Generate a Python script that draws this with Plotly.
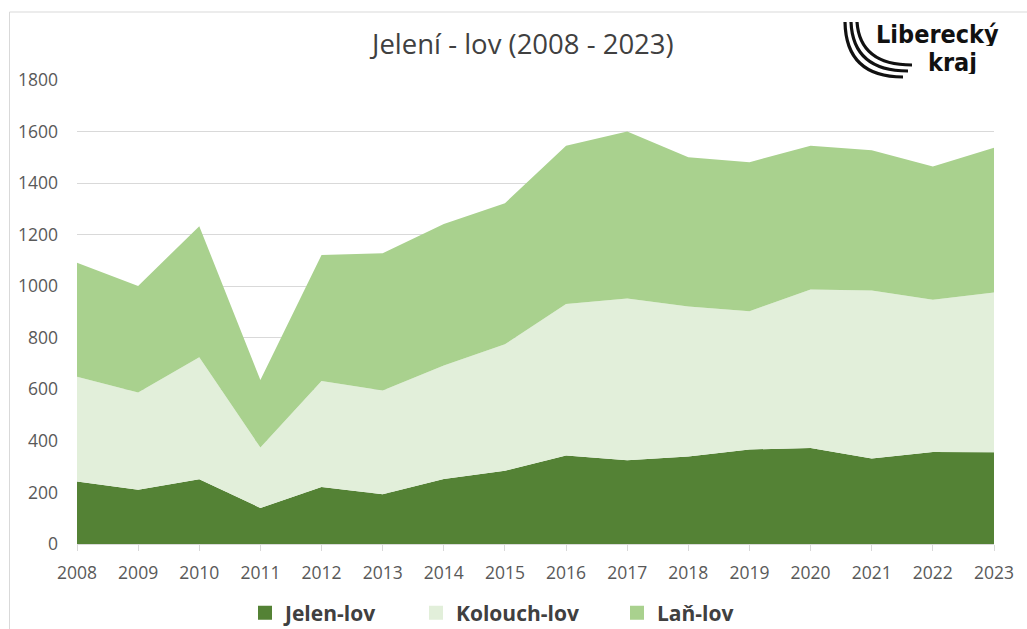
import plotly.graph_objects as go

years = [2008, 2009, 2010, 2011, 2012, 2013, 2014, 2015, 2016, 2017, 2018, 2019, 2020, 2021, 2022, 2023]
jelen = [242, 210, 251, 140, 221, 193, 252, 284, 343, 325, 339, 367, 372, 332, 357, 356]
kolouch = [407, 378, 473, 234, 411, 402, 440, 491, 588, 627, 582, 536, 615, 651, 591, 620]
lan = [442, 413, 509, 262, 489, 533, 549, 547, 614, 648, 579, 578, 558, 544, 516, 561]
series_names = ["Jelen-lov", "Kolouch-lov", "Laň-lov"]
colors = ["#548235", "#E2EFDA", "#A9D18E"]
title_text = "Jelení - lov (2008 - 2023)"

W, H = 1027, 629
ML, MR, MT, MB = 77, 33, 80, 85
PW, PH = W - ML - MR, H - MT - MB


def px(x):
    return (x - ML) / PW


def py(y):
    return (H - MB - y) / PH


fig = go.Figure()
for name, vals, col, lg in zip(series_names, [jelen, kolouch, lan], colors, ["legend", "legend2", "legend3"]):
    fig.add_trace(go.Scatter(
        x=years, y=vals, name=name, stackgroup="one", mode="lines",
        line=dict(width=0, color=col), fillcolor=col, showlegend=False,
        legendgroup=name,
    ))
    fig.add_trace(go.Scatter(
        x=[None], y=[None], name=name, mode="markers",
        marker=dict(symbol="square", size=14, color=col),
        legendgroup=name, showlegend=True, legend=lg,
    ))

leg_font = dict(family="Open Sans", size=21, color="#404040", weight="bold")
leg_common = dict(orientation="h", xanchor="left", yanchor="middle",
                  xref="container", yref="container", y=1 - 613 / H,
                  font=leg_font, bgcolor="rgba(0,0,0,0)", itemwidth=30)


def arc(x0, y0, cx, cy, x1, y1):
    return f"M {px(x0)} {py(y0)} Q {px(cx)} {py(cy)} {px(x1)} {py(y1)}"


shapes = [
    dict(type="line", xref="paper", yref="paper", x0=px(9.5), x1=px(9.5), y0=py(12), y1=py(700),
         line=dict(color="#D9D9D9", width=1)),
    dict(type="line", xref="paper", yref="paper", x0=px(9.5), x1=px(1100), y0=py(12), y1=py(12),
         line=dict(color="#D9D9D9", width=1)),
]
for (x0, cxx, cyy, x1, y1) in [(845, 846, 77, 903, 77), (851, 853, 71, 908, 71), (857, 860, 65, 912, 65)]:
    shapes.append(dict(type="path", xref="paper", yref="paper",
                       path=arc(x0, 22, cxx, cyy, x1, y1),
                       line=dict(color="#111111", width=3.2)))

logo_font = dict(family="Liberation Sans Narrow, DejaVu Sans Condensed", size=25, color="#111111", weight="bold")
annotations = [
    dict(text=title_text, xref="paper", yref="paper", x=px(521), y=py(43),
         xanchor="center", yanchor="middle", showarrow=False,
         font=dict(family="Open Sans", size=27.5, color="#404040")),
    dict(text="Liberecký", xref="paper", yref="paper", x=px(1001), y=py(34),
         xanchor="right", yanchor="middle", showarrow=False, font=logo_font, height=24),
    dict(text="kraj", xref="paper", yref="paper", x=px(979), y=py(62),
         xanchor="right", yanchor="middle", showarrow=False, font=logo_font, height=24),
]

fig.update_layout(
    width=W, height=H,
    margin=dict(l=ML, r=MR, t=MT, b=MB),
    paper_bgcolor="white", plot_bgcolor="white",
    font=dict(family="Open Sans", size=17, color="#595959"),
    legend=dict(x=245 / W, **leg_common),
    legend2=dict(x=416 / W, **leg_common),
    legend3=dict(x=617 / W, **leg_common),
    shapes=shapes,
    annotations=annotations,
    xaxis=dict(range=[2008, 2023], tickvals=years, ticktext=[str(y) for y in years],
               showgrid=False, showline=True, linecolor="#D9D9D9", linewidth=1,
               ticks="outside", ticklen=6, tickcolor="#D9D9D9", zeroline=False,
               ticklabelstandoff=7, automargin=False,
               tickfont=dict(family="Open Sans", size=17.5, color="#595959")),
    yaxis=dict(range=[0, 1800], dtick=200, showgrid=True, gridcolor="#D9D9D9", gridwidth=1,
               zeroline=False, showline=False, ticks="", ticklabelstandoff=18, automargin=False,
               tickfont=dict(family="Open Sans", size=17.5, color="#595959")),
    hovermode=False,
)

fig.write_html("out.html", config={"displayModeBar": False},
               post_script="document.body.style.margin='0';")
